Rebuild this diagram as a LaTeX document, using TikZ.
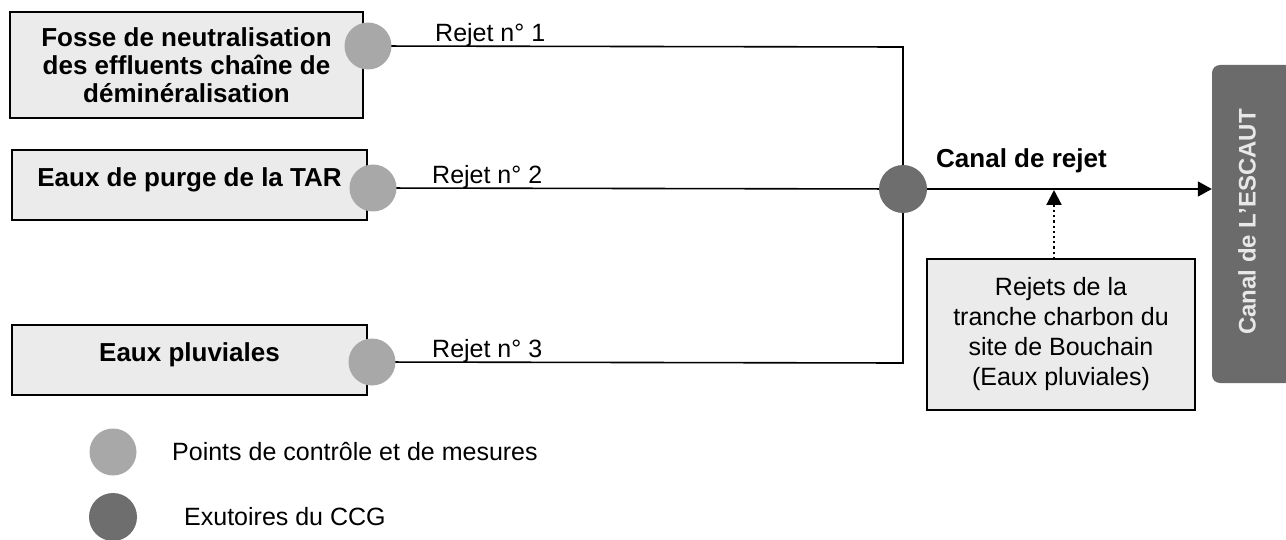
\documentclass[tikz,border=0pt]{standalone}
\usepackage{fontspec}
\setmainfont{Liberation Sans}
\usetikzlibrary{arrows.meta}
\pgfdeclarelayer{bg}
\pgfsetlayers{bg,main}
\definecolor{boxfill}{gray}{0.92}
\definecolor{lightdot}{gray}{0.66}
\definecolor{darkdot}{gray}{0.43}
\definecolor{canalfill}{gray}{0.42}
\tikzset{
  srcbox/.style={draw=black, line width=1.3pt, fill=boxfill, align=center, inner sep=0pt,
    font=\fontsize{26}{28}\selectfont\bfseries},
  lightpt/.style={circle, fill=lightdot, minimum size=47pt, inner sep=0pt},
  darkpt/.style={circle, fill=darkdot, minimum size=48pt, inner sep=0pt},
  pipe/.style={draw=black, line width=1.6pt},
  lbl/.style={font=\fontsize{25}{28}\selectfont, inner sep=0pt},
}
\begin{document}
\begin{tikzpicture}[x=1pt,y=-1pt]
\useasboundingbox (0,0) rectangle (1286,540);
% source boxes
\node[srcbox, minimum width=353pt, minimum height=106pt] (b1) at (186.5,65)
  {Fosse de neutralisation\\des effluents chaîne de\\déminéralisation};
\node[srcbox, minimum width=355pt, minimum height=70pt, text depth=16pt] (b2) at (189.5,185)
  {Eaux de purge de la TAR};
\node[srcbox, minimum width=355pt, minimum height=70pt, text depth=16pt] (b3) at (189.5,360)
  {Eaux pluviales};
% measurement points
\node[lightpt] (c1) at (368,46) {};
\node[lightpt] (c2) at (373,188) {};
\node[lightpt] (c3) at (372,362) {};
% outlet
\node[darkpt] (d) at (903,189) {};
\coordinate (j1) at (903,47);
\coordinate (j3) at (903,363);
% canal de l'Escaut
\node[draw=none, fill=canalfill, rounded corners=8pt, minimum width=100pt, minimum height=318pt] (esc) at (1262,224) {};
\node[rotate=90, font=\fontsize{24}{28}\selectfont\bfseries, text=gray!18, inner sep=0pt] (esct) at (1247,222) {Canal de L'ESCAUT};
% rejets box
\node[draw=black, line width=1.3pt, fill=boxfill, minimum width=268pt, minimum height=151pt, align=center,
  inner sep=0pt, font=\fontsize{25}{30}\selectfont] (b4) at (1061,334.5)
  {Rejets de la\\tranche charbon du\\site de Bouchain\\(Eaux pluviales)};
\coordinate (b4top) at (1054,259);
\coordinate (tip) at (1054,190);
% connectors
\begin{pgfonlayer}{bg}
\draw[pipe] (c1.center) -- (j1) -- (j3) -- (c3.center);
\draw[pipe] (c2.center) -- (d.center);
\end{pgfonlayer}
\draw[pipe, -{Triangle[length=14pt,width=15pt]}] (d.east) -- (esc.west |- d);
\draw[line width=2.2pt, dash pattern=on 2.2pt off 3pt, -{Triangle[length=15pt,width=15pt]}] (b4top) -- (tip);
% labels
\node[lbl, anchor=base west] (r1) at (435,42) {Rejet n° 1};
\node[lbl, anchor=base west] (r2) at (432,184) {Rejet n° 2};
\node[lbl, anchor=base west] (r3) at (432,357) {Rejet n° 3};
\node[lbl, anchor=base west, font=\fontsize{26}{28}\selectfont\bfseries] (cr) at (936,168) {Canal de rejet};
% legend
\node[lightpt] (l1) at (113,452) {};
\node[lbl, anchor=west] (lt1) at (172,452) {Points de contrôle et de mesures};
\node[darkpt] (l2) at (113,517) {};
\node[lbl, anchor=west] (lt2) at (184,517) {Exutoires du CCG};
\end{tikzpicture}
\end{document}
